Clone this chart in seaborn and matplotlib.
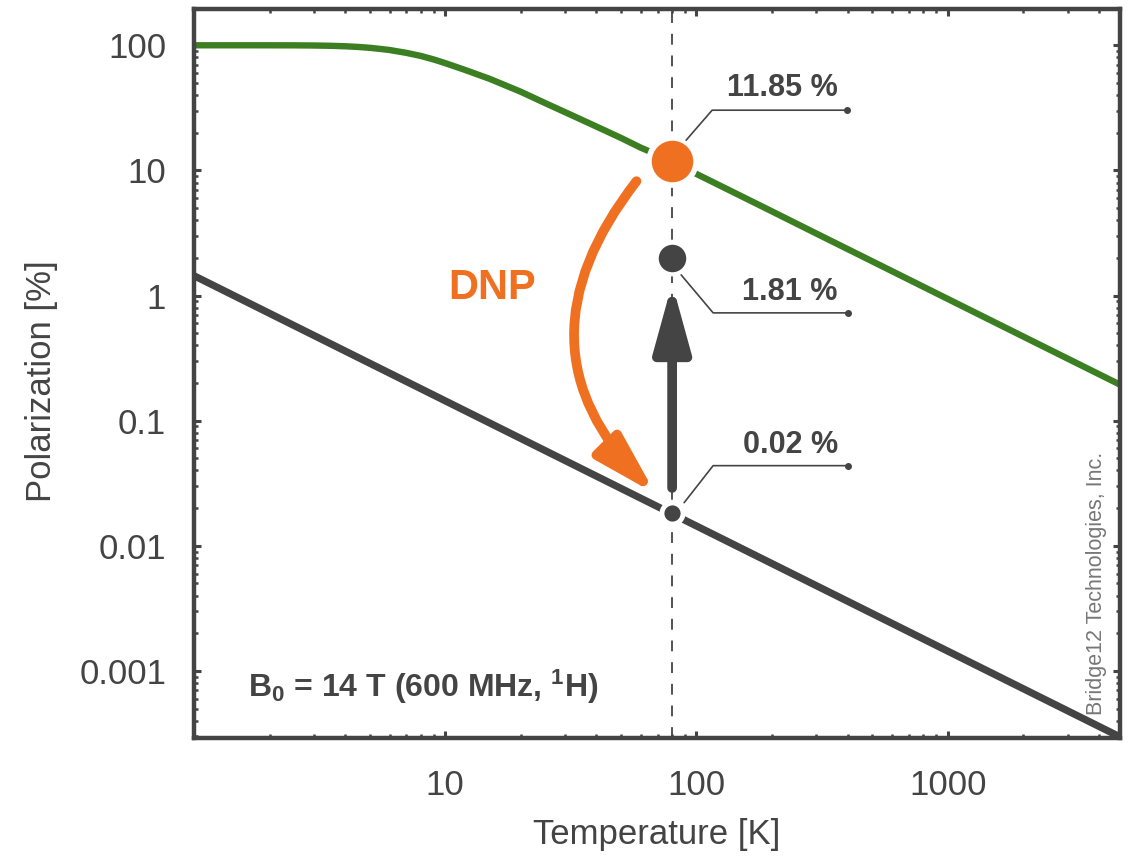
import numpy as np
import pandas as pd
import seaborn as sns
import matplotlib.pyplot as plt
from matplotlib.ticker import FixedLocator, FuncFormatter, LogLocator, NullFormatter
from matplotlib.transforms import Affine2D

# electron (green) and 1H nuclear (gray) polarization at B0 = 14 T
T_e = [1, 1.5, 2, 2.5, 3, 3.5, 4, 4.5, 5, 5.5, 6, 7, 8, 9, 10, 12, 15, 20, 25,
       30, 40, 50, 60, 80, 100, 150, 200, 300, 500, 1000, 2000, 4850]
P_e = [100, 100, 99.98, 99.9, 99.6, 99.1, 98.2, 97.0, 95.5, 93.6, 91.7, 87.0,
       82.2, 77.0, 72.0, 63.5, 54.0, 42.5, 34.5, 29.2, 22.4, 18.2, 15.2, 11.85,
       9.37, 6.26, 4.70, 3.13, 1.88, 0.94, 0.47, 0.194]
T_n = [1, 10, 100, 1000, 4850]
P_n = [1.44, 0.144, 0.0144, 0.00144, 0.000297]

T_mark = 80
P_dnp = 11.85      # electron polarization at 80 K
P_gain = 2.0       # where the enhanced dot is drawn
P_nuc = 0.0184     # thermal 1H polarization at 80 K
labels = ["11.85 %", "1.81 %", "0.02 %"]

GREEN = "#3b7f22"
ORANGE = "#f07022"
DARK = "#444444"

sns.set_style("ticks")
plt.rcParams["font.family"] = ["Liberation Sans", "DejaVu Sans"]
plt.rcParams["mathtext.fontset"] = "custom"
plt.rcParams["mathtext.bf"] = "Liberation Sans:bold"
plt.rcParams["mathtext.rm"] = "Liberation Sans:bold"
plt.rcParams["mathtext.default"] = "bf"

fig = plt.figure(figsize=(11.32, 8.59), dpi=100)
ax = fig.add_axes([194 / 1132, 121 / 859, 926 / 1132, 729 / 859])

df_e = pd.DataFrame({"T": T_e, "P": P_e})
df_n = pd.DataFrame({"T": T_n, "P": P_n})

ax.set_xscale("log")
ax.set_yscale("log")
ax.set_xlim(1, 4850)
ax.set_ylim(0.000291, 195)

ax.axvline(T_mark, color=DARK, lw=1.3, dashes=(6, 6), zorder=1)
sns.lineplot(data=df_e, x="T", y="P", ax=ax, color=GREEN, lw=4.6, zorder=2)
sns.lineplot(data=df_n, x="T", y="P", ax=ax, color=DARK, lw=5.2, zorder=2)

# arrows
ax.annotate("", xy=(T_mark, 1.25), xytext=(T_mark, 0.029),
            arrowprops=dict(arrowstyle="-|>,head_length=4.0,head_width=1.1",
                            mutation_scale=10, lw=7, color=DARK,
                            shrinkA=0, shrinkB=0), zorder=3)
ax.annotate("", xy=(68.7, 0.026), xytext=(57.7, 8.2),
            arrowprops=dict(arrowstyle="-|>,head_length=3.7,head_width=1.05",
                            mutation_scale=10, lw=7, color=ORANGE,
                            connectionstyle="arc3,rad=0.44",
                            shrinkA=0, shrinkB=0), zorder=3)

dots = pd.DataFrame({"T": [T_mark] * 3, "P": [P_dnp, P_gain, P_nuc]})
sns.scatterplot(data=dots.iloc[[0]], x="T", y="P", ax=ax, s=1150, color=ORANGE,
                edgecolor="white", linewidth=4, zorder=4)
sns.scatterplot(data=dots.iloc[[1]], x="T", y="P", ax=ax, s=520, color=DARK,
                edgecolor="white", linewidth=3, zorder=4)
sns.scatterplot(data=dots.iloc[[2]], x="T", y="P", ax=ax, s=230, color=DARK,
                edgecolor="white", linewidth=3.5, zorder=4)

# leader lines (offsets in pixels from each dot)
leaders = [
    (P_dnp, [(14, 21), (40, 51), (175, 51)], (110, 58)),
    (P_gain, [(9, -17), (41, -55), (176, -55)], (118, -49)),
    (P_nuc, [(12, 10), (41, 47), (176, 47)], (118, 53)),
]
for (p, pts, txt), lab in zip(leaders, labels):
    x0, y0 = ax.transData.transform((T_mark, p))
    tr = Affine2D().translate(x0, y0)
    xs, ys = zip(*pts)
    ax.plot(xs, ys, color=DARK, lw=1.2, transform=tr, clip_on=False, zorder=5)
    ax.plot(xs[-1], ys[-1], "o", ms=4, color=DARK, transform=tr, clip_on=False, zorder=5)
    ax.text(txt[0], txt[1], lab, transform=tr, ha="center", va="bottom",
            fontsize=22, fontweight="bold", color=DARK, zorder=5)

ax.text(0.322, 0.617, "DNP", transform=ax.transAxes, ha="center", va="center",
        fontsize=30, fontweight="bold", color=ORANGE)
ax.text(0.058, 0.07, r"$B_0$ = 14 T (600 MHz, $^1$H)", transform=ax.transAxes,
        ha="left", va="center", fontsize=23, fontweight="bold", color=DARK)
ax.text(0.975, 0.031, "Bridge12 Technologies, Inc.", transform=ax.transAxes,
        rotation=90, ha="center", va="bottom", fontsize=15.5, color="#777777")

# axes styling
for sp in ax.spines.values():
    sp.set_visible(True)
    sp.set_color(DARK)
    sp.set_linewidth(3.2)
ax.xaxis.set_major_locator(FixedLocator([10, 100, 1000]))
ax.xaxis.set_minor_locator(LogLocator(base=10, subs=np.arange(2, 10)))
ax.yaxis.set_major_locator(FixedLocator([0.001, 0.01, 0.1, 1, 10, 100]))
ax.yaxis.set_minor_locator(LogLocator(base=10, subs=np.arange(2, 10), numticks=20))
fmt = FuncFormatter(lambda v, _: "{:g}".format(v))
ax.xaxis.set_major_formatter(fmt)
ax.yaxis.set_major_formatter(fmt)
ax.xaxis.set_minor_formatter(NullFormatter())
ax.yaxis.set_minor_formatter(NullFormatter())
ax.tick_params(which="both", direction="in", top=True, right=True, color=DARK,
               labelcolor=DARK, labelsize=25)
ax.tick_params(which="major", length=5, width=2.2)
ax.tick_params(which="minor", length=3, width=1.8)
ax.tick_params(axis="x", which="major", pad=22)
ax.tick_params(axis="y", which="major", pad=20)

ax.set_xlabel("Temperature [K]", fontsize=25, color=DARK)
ax.set_ylabel("Polarization [%]", fontsize=25, color=DARK)
ax.xaxis.set_label_coords(0.5, -0.11)
ax.yaxis.set_label_coords(-0.147, 0.49)

fig.savefig("out.png", dpi=100)
